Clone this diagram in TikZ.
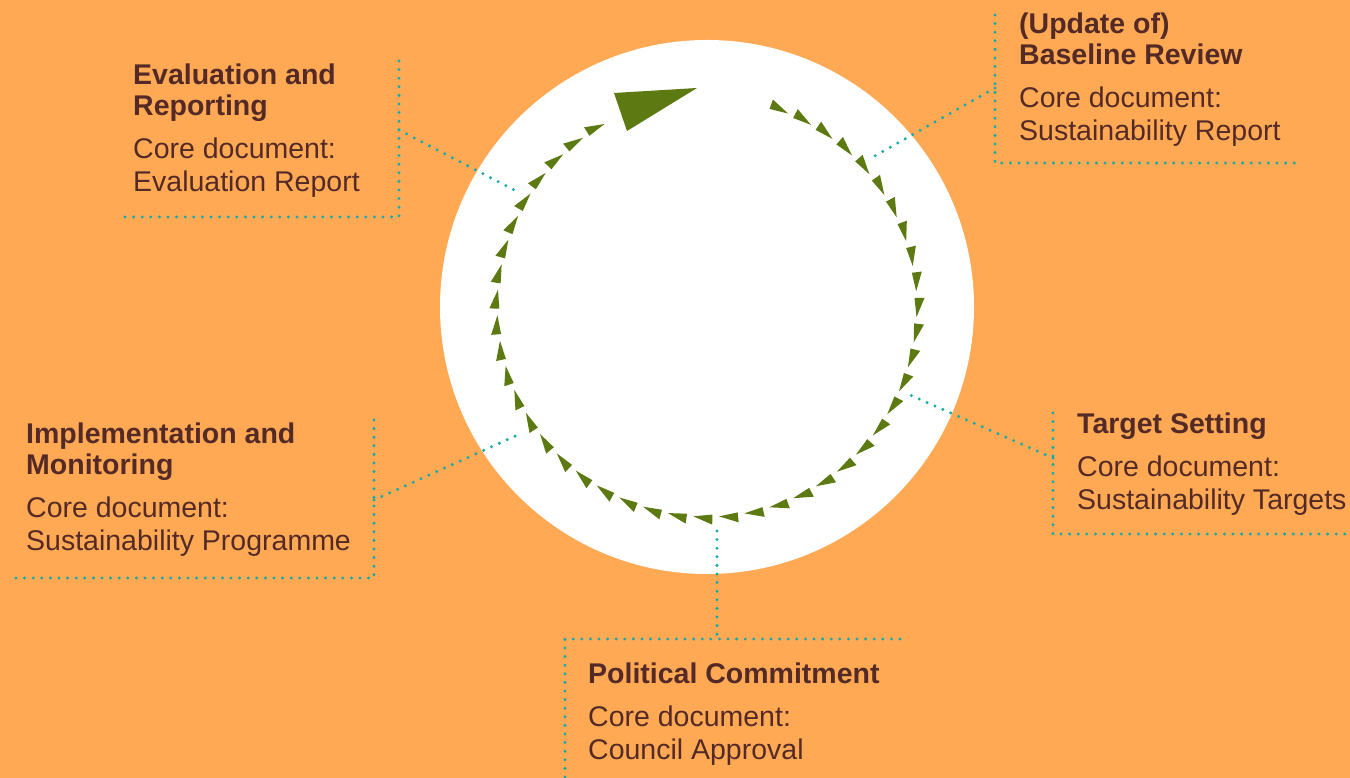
\documentclass[tikz,border=0pt]{standalone}
\usepackage{fontspec}
\setmainfont{Liberation Sans}
\definecolor{bgorange}{RGB}{255,169,85}
\definecolor{ringgreen}{RGB}{92,122,17}
\definecolor{dotteal}{RGB}{22,170,168}
\definecolor{textbrown}{RGB}{84,42,38}

\begin{document}
\begin{tikzpicture}[x=1pt,y=1pt,
  dotline/.style={dotteal, line width=3.3pt, line cap=round, dash pattern=on 0pt off 8.6pt},
  stage/.style={anchor=north west, inner sep=0pt, align=left, text=textbrown,
    font=\fontsize{28.5}{33}\selectfont}]

% Background
\fill[bgorange] (0,0) rectangle (1350,778);
\useasboundingbox (0,0) rectangle (1350,778);

% Circle
\coordinate (c) at (707,471);
\fill[white] (c) circle (267);

% Dotted brackets
\coordinate (eval top) at (399,717);
\coordinate (eval corner) at (399,561);
\coordinate (eval end) at (118,561);
\coordinate (eval link) at (399,648);
\coordinate (eval ring) at (518,586);
\draw[dotline] (eval top) -- (eval corner) -- (eval end);
\draw[dotline] (eval link) -- (eval ring);

\coordinate (base top) at (995,763);
\coordinate (base corner) at (995,615);
\coordinate (base end) at (1302,615);
\coordinate (base link) at (995,690);
\coordinate (base ring) at (873,621);
\draw[dotline] (base top) -- (base corner) -- (base end);
\draw[dotline] (base link) -- (base ring);

\coordinate (target top) at (1053,365);
\coordinate (target corner) at (1053,244);
\coordinate (target end) at (1350,244);
\coordinate (target link) at (1053,320);
\coordinate (target ring) at (910,383);
\draw[dotline] (target top) -- (target corner) -- (target end);
\draw[dotline] (target link) -- (target ring);

\coordinate (impl top) at (374,358);
\coordinate (impl corner) at (374,200);
\coordinate (impl end) at (12,200);
\coordinate (impl link) at (374,278);
\coordinate (impl ring) at (522,345);
\draw[dotline] (impl top) -- (impl corner) -- (impl end);
\draw[dotline] (impl link) -- (impl ring);

\coordinate (pol ring) at (717,247);
\coordinate (pol joint) at (717,139);
\coordinate (pol left) at (565,139);
\coordinate (pol right) at (900,139);
\coordinate (pol end) at (565,0);
\draw[dotline] (pol ring) -- (pol joint);
\draw[dotline] (pol right) -- (pol left) -- (pol end);

% Cycle arrows
\foreach \k in {0,...,44} {
  \pgfmathsetmacro{\a}{70-7*\k}
  \fill[ringgreen, shift={(c)}, rotate=\a] (209.5,-10) -- (207.5,9) -- (217.5,9) -- cycle;
}
\fill[ringgreen] (614,685) -- (697,690) -- (627,647) -- cycle;

% Stages
\node[stage] (eval) at (133,714) {\textbf{Evaluation and}\\[-2pt] \textbf{Reporting}\\[10pt] Core document:\\ Evaluation Report};
\node[stage] (base) at (1019,765) {\textbf{(Update of)}\\[-2pt] \textbf{Baseline Review}\\[10pt] Core document:\\ Sustainability Report};
\node[stage] (target) at (1077,365) {\textbf{Target Setting}\\[10pt] Core document:\\ Sustainability Targets};
\node[stage] (pol) at (588,115) {\textbf{Political Commitment}\\[10pt] Core document:\\ Council Approval};
\node[stage] (impl) at (26,355) {\textbf{Implementation and}\\[-2pt] \textbf{Monitoring}\\[10pt] Core document:\\ Sustainability Programme};

\end{tikzpicture}
\end{document}
